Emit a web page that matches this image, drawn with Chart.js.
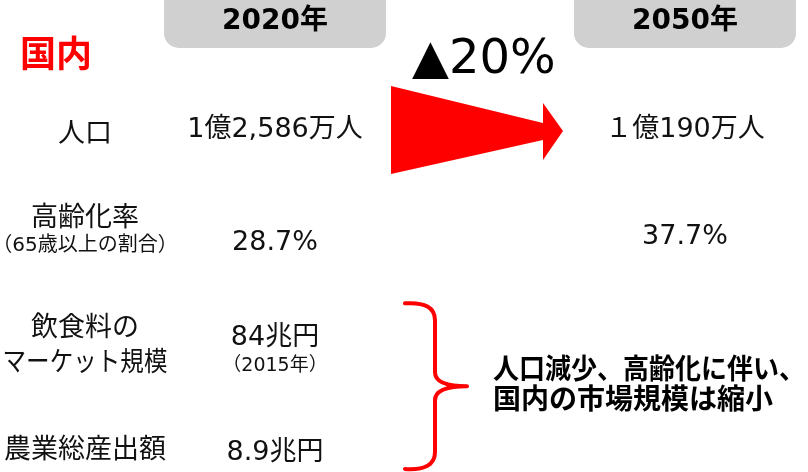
<!DOCTYPE html>
<html lang="ja">
<head>
  <meta charset="UTF-8" />
  <title>国内 2020年 → 2050年</title>
  <script src="https://cdn.jsdelivr.net/npm/chart.js"></script>
  <style>
    html, body { margin: 0; padding: 0; background: #fff; }
    .wrap { width: 808px; height: 472px; position: relative; }
  </style>
</head>
<body>
<div class="wrap"><canvas id="info"></canvas></div>

<script>
  // ---- data ----
  const region = '国内';
  const years = ['2020年', '2050年'];
  const rowKeys = ['人口', '高齢化率', '飲食料', '農業総産出額'];
  const rowLabels = [
    ['人口'],
    ['高齢化率', '（65歳以上の割合）'],
    ['飲食料の', 'マーケット規模'],
    ['農業総産出額']
  ];
  const values2020 = ['1億2,586万人', '28.7%', '84兆円', '8.9兆円'];
  const notes2020 = ['', '', '（2015年）', ''];
  const values2050 = ['１億190万人', '37.7%', '', ''];
  const changeLabel = '▲20%';
  const summary = ['人口減少、高齢化に伴い、', '国内の市場規模は縮小'];

  // ---- layout (x in px along hidden x scale) ----
  const COL = { label: 85, y2020: 275, y2050: 685 };
  const FONT = '"DejaVu Sans", "Noto Sans CJK JP", sans-serif';
  const INK = '#111';
  const RED = '#ff0000';

  // per-line offsets for the row labels
  const labelLayout = [
    [{ dy: 3 }],
    [{ dy: -20 }, { dy: 7, size: 20 }],
    [{ dy: -16 }, { dy: 19, fit: 165 }],
    [{ dy: -1 }]
  ];
  const valueDy2020 = [-2, 4, -7, 1];
  const valueDy2050 = [-2, -2, 0, 0];

  function text(ctx, str, x, y, opts = {}) {
    ctx.save();
    ctx.font = (opts.bold ? 'bold ' : '') + (opts.size || 27) + 'px ' + FONT;
    ctx.fillStyle = opts.color || INK;
    ctx.textAlign = opts.align || 'center';
    ctx.textBaseline = opts.baseline || 'middle';
    if (opts.fit) ctx.fillText(str, x, y, opts.fit);
    else ctx.fillText(str, x, y);
    ctx.restore();
  }

  const infoPlugin = {
    id: 'infographic',
    afterDraw(chart) {
      const { ctx } = chart;
      const x = chart.scales.x;
      const y = chart.scales.y;

      // header boxes
      [COL.y2020, COL.y2050].forEach((c, i) => {
        const cx = x.getPixelForValue(c);
        ctx.save();
        ctx.fillStyle = '#d0d0d0';
        ctx.beginPath();
        ctx.roundRect(cx - 111, -16, 222, 64, 15);
        ctx.fill();
        ctx.restore();
        text(ctx, years[i], cx, 22, { bold: true, size: 28, color: '#000' });
      });

      // region title
      text(ctx, region, x.getPixelForValue(20), 58, { bold: true, size: 36, color: RED, align: 'left' });

      // row labels + values
      rowLabels.forEach((lines, r) => {
        const ry = y.getPixelForValue(r);
        lines.forEach((ln, k) => {
          const l = labelLayout[r][k];
          text(ctx, ln, x.getPixelForValue(COL.label), ry + l.dy, { size: l.size || 27, fit: l.fit });
        });
        text(ctx, values2020[r], x.getPixelForValue(COL.y2020), ry + valueDy2020[r]);
        if (notes2020[r]) text(ctx, notes2020[r], x.getPixelForValue(COL.y2020), ry + 21, { size: 19 });
        if (values2050[r]) text(ctx, values2050[r], x.getPixelForValue(COL.y2050), ry + valueDy2050[r]);
      });

      // change arrow on the population row
      const ay = y.getPixelForValue(0) - 1;
      const ax0 = x.getPixelForValue(391), ax1 = x.getPixelForValue(543), ax2 = x.getPixelForValue(563);
      ctx.save();
      ctx.fillStyle = RED;
      ctx.beginPath();
      ctx.moveTo(ax0, ay - 45);
      ctx.lineTo(ax1, ay - 8);
      ctx.lineTo(ax1, ay - 28);
      ctx.lineTo(ax2, ay);
      ctx.lineTo(ax1, ay + 29);
      ctx.lineTo(ax1, ay + 9);
      ctx.lineTo(ax0, ay + 43);
      ctx.closePath();
      ctx.fill();
      ctx.restore();
      text(ctx, changeLabel, x.getPixelForValue(412), 73, { size: 48, align: 'left', baseline: 'alphabetic', color: '#000' });

      // brace over the market rows
      const top = y.getPixelForValue(2) - 43;
      const bot = y.getPixelForValue(3) + 18;
      const mid = (top + bot) / 2;
      const bx = x.getPixelForValue(435), bl = x.getPixelForValue(405), bm = x.getPixelForValue(467);
      ctx.save();
      ctx.strokeStyle = RED;
      ctx.lineWidth = 4;
      ctx.lineCap = 'round';
      ctx.beginPath();
      ctx.moveTo(bl, top + 1);
      ctx.quadraticCurveTo(bx, top - 1, bx, top + 18);
      ctx.lineTo(bx, mid - 14);
      ctx.quadraticCurveTo(bx, mid, bm, mid);
      ctx.moveTo(bm, mid);
      ctx.quadraticCurveTo(bx, mid, bx, mid + 14);
      ctx.lineTo(bx, bot - 18);
      ctx.quadraticCurveTo(bx, bot + 1, bl, bot - 1);
      ctx.stroke();
      ctx.restore();

      // summary note
      text(ctx, summary[0], x.getPixelForValue(493), mid - 14, { bold: true, size: 28, align: 'left', fit: 312, color: '#000' });
      text(ctx, summary[1], x.getPixelForValue(493), mid + 16, { bold: true, size: 28, align: 'left', color: '#000' });
    }
  };

  new Chart(document.getElementById('info'), {
    type: 'bar',
    data: { labels: rowKeys, datasets: [] },
    options: {
      indexAxis: 'y',
      responsive: true,
      maintainAspectRatio: false,
      animation: false,
      layout: { padding: { top: 132, bottom: 20, left: 0, right: 0 } },
      plugins: { legend: { display: false }, tooltip: { enabled: false } },
      scales: {
        x: { type: 'linear', min: 0, max: 808, display: false },
        y: { type: 'category', offset: false, display: false }
      }
    },
    plugins: [infoPlugin]
  });
</script>
</body>
</html>
